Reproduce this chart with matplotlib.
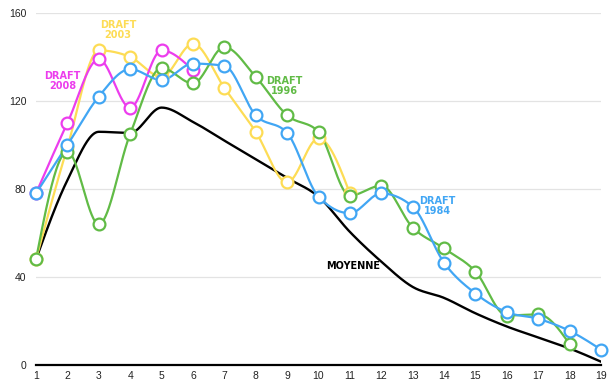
import numpy as np
import matplotlib
matplotlib.use('Agg')
import matplotlib.pyplot as plt

# picks per draft year (rank 1..19)
xs = list(range(1, 20))
draft2008 = [78, 110, 139, 117, 143, 134]
draft2003 = [48, 99, 143, 140, 131, 146, 126, 106, 83, 103, 78]
draft1996 = [48, 97, 64, 105, 135, 128, 144.5, 131, 113.5, 106, 77, 81.5, 62.5, 53, 42.5, 22.5, 23, 9.5]
draft1984 = [78, 100, 122, 134.5, 129.5, 137, 136, 113.5, 105.5, 76.5, 69, 78, 72, 46.5, 32.5, 24, 21, 15.5, 7]
moyenne = [48, 84, 106, 105.5, 117, 110.5, 102, 93.5, 85, 76.5, 60.5, 47, 35.5, 30.5, 23.5, 17.5, 12.5, 7.5, 1.5]

colors = {'2008': '#ec3ded', '2003': '#fddc55', '1996': '#61bb46', '1984': '#41a6f4'}


def smooth(y, n=40):
    # monotone cubic (steffen), same idea as d3 curveMonotoneX
    y = np.asarray(y, dtype=float)
    x = np.arange(1, len(y) + 1, dtype=float)
    s = np.diff(y)  # h = 1
    m = np.zeros(len(y))
    for i in range(1, len(y) - 1):
        p = (s[i - 1] + s[i]) / 2
        m[i] = (np.sign(s[i - 1]) + np.sign(s[i])) * min(abs(s[i - 1]), abs(s[i]), 0.5 * abs(p))
    m[0] = (3 * s[0] - m[1]) / 2
    m[-1] = (3 * s[-1] - m[-2]) / 2
    outx, outy = [], []
    for i in range(len(y) - 1):
        t = np.linspace(0, 1, n, endpoint=False)
        h00 = 2 * t ** 3 - 3 * t ** 2 + 1
        h10 = t ** 3 - 2 * t ** 2 + t
        h01 = -2 * t ** 3 + 3 * t ** 2
        h11 = t ** 3 - t ** 2
        outx.extend(x[i] + t)
        outy.extend(h00 * y[i] + h10 * m[i] + h01 * y[i + 1] + h11 * m[i + 1])
    outx.append(x[-1])
    outy.append(y[-1])
    return np.array(outx), np.array(outy)


fig = plt.figure(figsize=(6.16, 3.86), dpi=100)
ax = fig.add_axes([36 / 616, 21 / 386, 565 / 616, 352 / 386])

sx, sy = smooth(moyenne)
ax.plot(sx, sy, color='black', lw=1.7, zorder=3)

for key, ys in [('2003', draft2003), ('2008', draft2008), ('1996', draft1996), ('1984', draft1984)]:
    sx, sy = smooth(ys)
    ax.plot(sx, sy, color=colors[key], lw=1.6, zorder=4, clip_on=False)
    ax.plot(xs[:len(ys)], ys, 'o', ms=8.5, mfc='white', mec=colors[key], mew=1.6, zorder=5, clip_on=False)

lab = dict(fontsize=7, fontweight='bold', ha='center', va='center', linespacing=1.0,
           family=['Liberation Sans Narrow', 'DejaVu Sans'])
ax.text(1.85, 129, 'DRAFT\n2008', color=colors['2008'], **lab)
ax.text(3.62, 152.5, 'DRAFT\n2003', color=colors['2003'], **lab)
ax.text(8.9, 127, 'DRAFT\n1996', color=colors['1996'], **lab)
ax.text(13.78, 72.5, 'DRAFT\n1984', color=colors['1984'], **lab)
ax.text(11.1, 45, 'MOYENNE', color='black', **lab)

ax.set_xlim(1, 19)
ax.set_ylim(0, 160)
ax.set_yticks([0, 40, 80, 120, 160])
ax.set_xticks(xs)
ax.grid(axis='y', color='#e3e3e3', lw=0.9)
ax.set_axisbelow(True)
for s in ['top', 'right', 'left']:
    ax.spines[s].set_visible(False)
ax.spines['bottom'].set_linewidth(1.6)
ax.spines['bottom'].set_zorder(2)
ax.tick_params(length=0, labelsize=7.5, colors='#222222')
for t in ax.get_xticklabels() + ax.get_yticklabels():
    t.set_family(['Liberation Sans', 'DejaVu Sans'])
ax.tick_params(axis='y', pad=7)
ax.tick_params(axis='x', pad=4)

fig.savefig('out.png', dpi=100, facecolor='white')
